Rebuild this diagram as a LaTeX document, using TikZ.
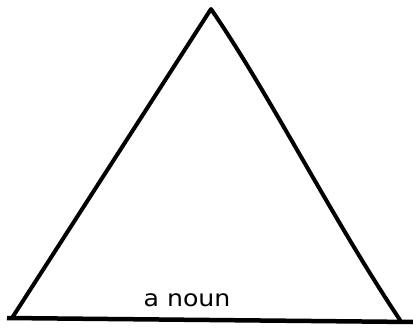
\documentclass[tikz,border=0pt]{standalone}
\usepackage{fontspec}
\setmainfont{DejaVu Sans}
\begin{document}
\begin{tikzpicture}[x=1bp,y=-1bp,
  stroke/.style={line width=4bp,line join=round,line cap=round,black},
  lbl/.style={font=\fontsize{23}{25}\selectfont,inner sep=0pt,xscale=1.1}]
\useasboundingbox (0,0) rectangle (413,331);
\coordinate (apex) at (211,9);
\coordinate (bl) at (12,318);
\coordinate (br) at (400,320);
\coordinate (bs) at (7,318);
\coordinate (be) at (413,322);
\draw[stroke] (bl) -- (apex) .. controls (270,95) and (330,215) .. (br);
\draw[line width=4.5bp,black] (bs) -- (be);
\node[lbl,text=black,draw=none] (noun) at (187,300) {a noun};
\end{tikzpicture}
\end{document}
